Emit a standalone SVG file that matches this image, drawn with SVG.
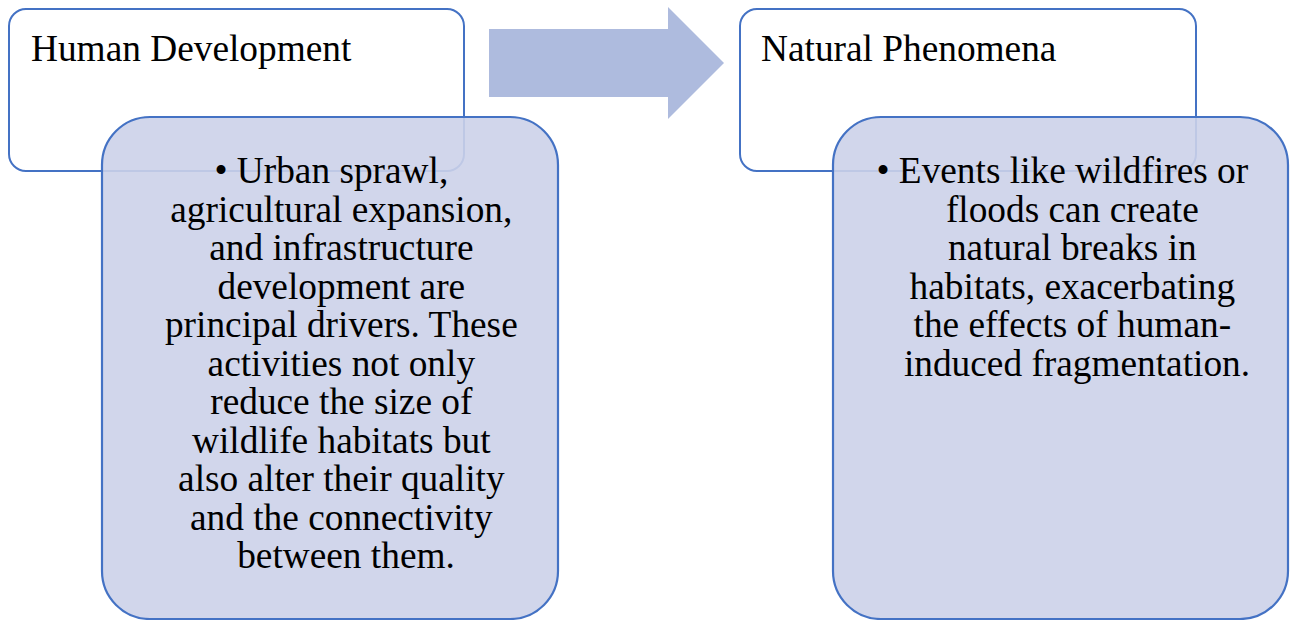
<svg xmlns="http://www.w3.org/2000/svg" width="1295" height="620" viewBox="0 0 1295 620">
  <style>
    .hdr { fill: #ffffff; stroke: #4472c4; stroke-width: 2; }
    .body { fill: #ccd2e9; fill-opacity: 0.9; stroke: #4472c4; stroke-width: 2.2; }
    .t { font-family: "Liberation Serif", "Times New Roman", serif; font-size: 37.33px; fill: #000000; }
    .c { text-anchor: middle; }
    .arrow { fill: #aebbde; }
  </style>
  <rect width="1295" height="620" fill="#ffffff"/>
  <g id="node-human-development">
    <rect class="hdr" x="9" y="9" width="455" height="162" rx="17" ry="17"/>
    <text class="t" x="31" y="61">Human Development</text>
  </g>
  <g id="node-human-details">
    <rect class="body" x="102" y="117" width="456" height="502" rx="48" ry="48"/>
    <text class="t c">
      <tspan x="336" y="183">• Urban sprawl,</tspan>
      <tspan x="346" y="221.5">agricultural expansion,</tspan>
      <tspan x="346" y="260">and infrastructure</tspan>
      <tspan x="346" y="298.5">development are</tspan>
      <tspan x="346" y="337">principal drivers. These</tspan>
      <tspan x="346" y="375.5">activities not only</tspan>
      <tspan x="346" y="414">reduce the size of</tspan>
      <tspan x="346" y="452.5">wildlife habitats but</tspan>
      <tspan x="346" y="491">also alter their quality</tspan>
      <tspan x="346" y="529.5">and the connectivity</tspan>
      <tspan x="346" y="568">between them.</tspan>
    </text>
  </g>
  <g id="connectors">
    <polygon class="arrow" points="489,29 668,29 668,7 724,63 668,119 668,97 489,97"/>
  </g>
  <g id="node-natural-phenomena">
    <rect class="hdr" x="740" y="9" width="456" height="162" rx="17" ry="17"/>
    <text class="t" x="761" y="61">Natural Phenomena</text>
  </g>
  <g id="node-natural-details">
    <rect class="body" x="833" y="117" width="455" height="502" rx="48" ry="48"/>
    <text class="t c">
      <tspan x="1067" y="183">• Events like wildfires or</tspan>
      <tspan x="1077" y="221.5">floods can create</tspan>
      <tspan x="1077" y="260">natural breaks in</tspan>
      <tspan x="1077" y="298.5">habitats, exacerbating</tspan>
      <tspan x="1077" y="337">the effects of human-</tspan>
      <tspan x="1077" y="375.5">induced fragmentation.</tspan>
    </text>
  </g>
</svg>
